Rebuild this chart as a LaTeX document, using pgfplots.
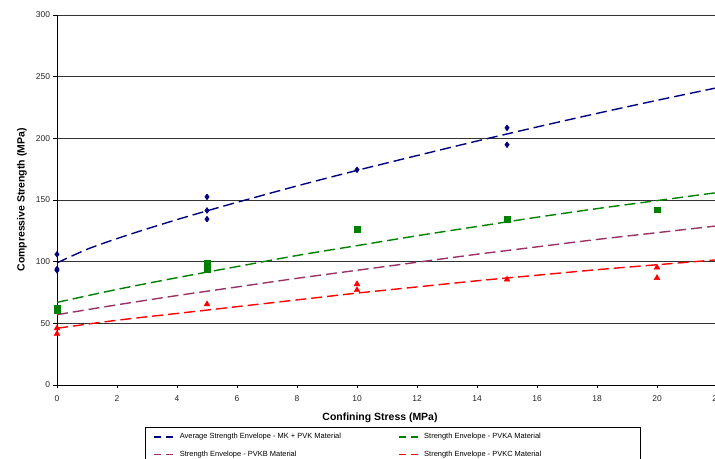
\documentclass[border=0pt]{standalone}
\usepackage{pgfplots}
\pgfplotsset{compat=1.18}
\usepackage{fontspec}
\setmainfont{Liberation Sans}
\definecolor{cblue}{RGB}{0,0,128}
\definecolor{cgreen}{RGB}{0,128,0}
\definecolor{cpurple}{RGB}{153,51,102}
\definecolor{cred}{RGB}{255,0,0}
\begin{document}
\begin{tikzpicture}[x=1bp,y=1bp]
\useasboundingbox (-57,-74) rectangle (658,385);
\begin{axis}[
  scale only axis, width=675bp, height=370bp,
  xmin=0, xmax=22.5, ymin=0, ymax=300,
  xtick={0,2,...,22}, ytick={0,50,...,300},
  axis x line*=bottom, axis y line*=left,
  axis line style={-, black, line width=0.8bp},
  ymajorgrids, grid style={black!80, line width=0.8bp},
  tick align=outside, major tick length=3.5bp,
  tick style={black, line width=0.7bp},
  /pgf/number format/assume math mode=true,
  ticklabel style={font=\fontsize{8.5}{10}\selectfont, text=black!85},
  xticklabel style={yshift=-4bp},
  xlabel={\bfseries Confining Stress (MPa)},
  ylabel={\bfseries Compressive Strength (MPa)},
  every axis x label/.style={at={(axis description cs:0.4785,-0.089)}, anchor=center, font=\fontsize{10.5}{12}\selectfont},
  every axis y label/.style={at={(axis description cs:-0.052,0.5)}, rotate=90, anchor=center, font=\fontsize{10.5}{12}\selectfont},
  legend columns=2,
  legend cell align=left,
  legend style={at={(rel axis cs:0.1304,-0.1135)}, anchor=north west,
    draw=black, line width=0.8bp, inner xsep=8bp, inner ysep=4bp,
    font=\fontsize{7.5}{9}\selectfont, row sep=7bp,
    /tikz/every even column/.append style={column sep=0bp}},
  legend image code/.code={\draw[#1, line width=1.4bp, dash pattern=on 7bp off 5bp] (0bp,0bp) -- (23bp,0bp);},
]
% measured points
\addplot[only marks, mark=diamond*, mark size=3.0bp, color=cblue, forget plot] coordinates {
 (0,106) (0,94) (0,93) (5,152.5) (5,141.5) (5,134.5) (10,174.5) (15,208.5) (15,194.8)};
\addplot[only marks, mark=square*, mark size=2.8bp, color=cgreen, forget plot] coordinates {
 (0,62.4) (0,60.2) (5,98.8) (5,93.8) (10,126.3) (15,134.3) (20,142)};
\addplot[only marks, mark=triangle*, mark size=3.4bp, color=cred, forget plot] coordinates {
 (0,46) (0,41.5) (5,65.5) (10,81.8) (10,77) (15,85.5) (20,95.3) (20,86.8)};
% strength envelopes
\addplot[cblue, line width=1.4bp, dash pattern=on 11bp off 5bp, smooth] coordinates {
 (0,99) (1,110) (2,118.7) (3,126.6) (4,134.1) (5,141.2) (6,148.1) (8,161.4) (10,174) (12,186) (14,197.8) (16,209.2) (18,220.2) (20,230.8) (22,241) (22.5,243.5)};
\addlegendentry{\makebox[216bp][l]{Average Strength Envelope - MK + PVK Material}}
\addplot[cgreen, line width=1.4bp, dash pattern=on 11bp off 5bp, smooth] coordinates {
 (0,67) (2,77.5) (4,87) (6,96) (8,105) (10,113) (12,121) (14,128.5) (16,136) (18,143) (20,149.5) (22,156) (22.5,157.5)};
\addlegendentry{\makebox[206bp][l]{Strength Envelope - PVKA Material}}
\addplot[cpurple, line width=1.4bp, dash pattern=on 11bp off 5bp, smooth] coordinates {
 (0,57) (2,65) (4,72.5) (6,79.5) (8,86.5) (10,93) (12,99.5) (14,106) (16,112) (18,118) (20,123.5) (22,129) (22.5,130.3)};
\addlegendentry{Strength Envelope - PVKB Material}
\addplot[cred, line width=1.4bp, dash pattern=on 11bp off 5bp, smooth] coordinates {
 (0,46) (2,52.5) (4,58) (6,63.5) (8,69) (10,74.5) (12,79.5) (14,84.5) (16,89) (18,93.5) (20,97.5) (22,101.5) (22.5,102.5)};
\addlegendentry{Strength Envelope - PVKC Material}
\end{axis}
\end{tikzpicture}
\end{document}
